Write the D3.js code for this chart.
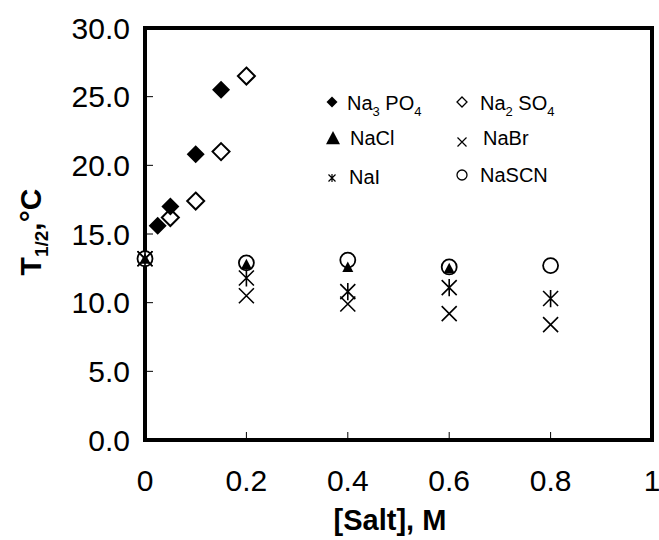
<!DOCTYPE html>
<html><head><meta charset="utf-8">
<script src="https://cdn.jsdelivr.net/npm/d3@7"></script>
<style>body{margin:0;background:#fff}svg{display:block}text{font-family:Arial,"Liberation Sans",sans-serif}</style>
</head><body><svg id="c" width="659" height="540"></svg>
<script>
const xTicks = [0, 0.2, 0.4, 0.6, 0.8, 1];
const xTickLabels = ["0", "0.2", "0.4", "0.6", "0.8", "1"];
const yTicks = [0, 5, 10, 15, 20, 25, 30];
const yTickLabels = ["0.0", "5.0", "10.0", "15.0", "20.0", "25.0", "30.0"];

const na3po4X = [0.025, 0.05, 0.1, 0.15];
const na3po4Y = [15.6, 17.0, 20.8, 25.5];
const na2so4X = [0.05, 0.1, 0.15, 0.2];
const na2so4Y = [16.2, 17.4, 21.0, 26.5];
const naclX = [0, 0.2, 0.4, 0.6];
const naclY = [13.2, 12.8, 12.6, 12.5];
const nabrX = [0, 0.2, 0.4, 0.6, 0.8];
const nabrY = [13.2, 10.5, 9.9, 9.2, 8.4];
const naiX = [0, 0.2, 0.4, 0.6, 0.8];
const naiY = [13.2, 11.8, 10.8, 11.1, 10.3];
const nascnX = [0, 0.2, 0.4, 0.6, 0.8];
const nascnY = [13.2, 12.9, 13.1, 12.6, 12.7];

const svg = d3.select("#c");
const x = d3.scaleLinear().domain([0, 1]).range([145, 652]);
const y = d3.scaleLinear().domain([0, 30]).range([440, 28]);

function drawSeries(xs, ys, draw) {
  xs.forEach((xv, i) => draw(svg.append("g").attr("transform", `translate(${x(xv)},${y(ys[i])})`)));
}
const diamondPath = s => `M0,${-s}L${s},0L0,${s}L${-s},0Z`;
const filledDiamond = (g, s = 9) => g.append("path").attr("d", diamondPath(s)).attr("fill", "#000");
const openDiamond = (g, s = 8.5) => g.append("path").attr("d", diamondPath(s)).attr("fill", "#fff").attr("stroke", "#000").attr("stroke-width", 2);
const triangle = (g, s = 5.5) => g.append("path").attr("d", `M0,${-s}L${s},${s*0.9}L${-s},${s*0.9}Z`).attr("fill", "#000");
const circle = (g, r = 7.5) => g.append("circle").attr("r", r).attr("fill", "#fff").attr("stroke", "#000").attr("stroke-width", 1.8);
const xMark = (g, s = 7.5) => g.append("path").attr("d", `M${-s},${-s}L${s},${s}M${-s},${s}L${s},${-s}`).attr("stroke", "#000").attr("stroke-width", 1.6).attr("fill", "none");
const star = (g, s = 7.5) => g.append("path").attr("d", `M${-s},${-s}L${s},${s}M${-s},${s}L${s},${-s}M0,${-s*1.15}L0,${s*1.15}`).attr("stroke", "#000").attr("stroke-width", 1.6).attr("fill", "none");

// frame
svg.append("rect").attr("x", x(0)).attr("y", y(30)).attr("width", x(1) - x(0)).attr("height", y(0) - y(30))
  .attr("fill", "none").attr("stroke", "#000").attr("stroke-width", 4);

// ticks inside
const tickG = svg.append("g");
yTicks.slice(1, -1).forEach(t => tickG.append("line").attr("x1", x(0)).attr("x2", x(0) + 8).attr("y1", y(t)).attr("y2", y(t)).attr("stroke", "#000").attr("stroke-width", 1));
xTicks.slice(1, -1).forEach(t => tickG.append("line").attr("x1", x(t)).attr("x2", x(t)).attr("y1", y(0)).attr("y2", y(0) - 8).attr("stroke", "#000").attr("stroke-width", 1));

// tick labels
yTicks.forEach((t, i) => svg.append("text").attr("x", 130).attr("y", y(t)).attr("dy", "0.36em").attr("text-anchor", "end").attr("font-size", 30).text(yTickLabels[i]));
xTicks.forEach((t, i) => svg.append("text").attr("x", x(t)).attr("y", 491).attr("text-anchor", "middle").attr("font-size", 30).text(xTickLabels[i]));

// axis titles
svg.append("text").attr("x", 390).attr("y", 530).attr("text-anchor", "middle").attr("font-size", 29).attr("font-weight", "bold").text("[Salt], M");
const yt = svg.append("text").attr("transform", "translate(41,232) rotate(-90)").attr("text-anchor", "middle").attr("font-size", 30).attr("font-weight", "bold");
yt.append("tspan").text("T");
yt.append("tspan").attr("font-size", 19).attr("dy", 7).text("1/2");
yt.append("tspan").attr("dy", -7).text(",°C");

// data
drawSeries(nascnX, nascnY, g => circle(g));
drawSeries(na2so4X, na2so4Y, g => openDiamond(g));
drawSeries(na3po4X, na3po4Y, g => filledDiamond(g));
drawSeries(naclX, naclY, g => triangle(g));
drawSeries(nabrX, nabrY, g => xMark(g));
drawSeries(naiX, naiY, g => star(g));

// legend
const leg = svg.append("g");
function legText(px, py, parts) {
  const t = leg.append("text").attr("x", px).attr("y", py).attr("font-size", 20);
  parts.forEach(p => {
    if (p.sub) t.append("tspan").attr("font-size", 13).attr("dy", 6).text(p.s);
    else t.append("tspan").attr("dy", p.back ? -6 : 0).text(p.s);
  });
}
filledDiamond(leg.append("g").attr("transform", "translate(332,102)"), 5.5);
legText(347, 110, [{s: "Na"}, {s: "3", sub: true}, {s: " PO", back: true}, {s: "4", sub: true}]);
openDiamond(leg.append("g").attr("transform", "translate(462,102)"), 5).attr("stroke-width", 1.3);
legText(480, 110, [{s: "Na"}, {s: "2", sub: true}, {s: " SO", back: true}, {s: "4", sub: true}]);
triangle(leg.append("g").attr("transform", "translate(333,138)"), 7);
legText(350, 145, [{s: "NaCl"}]);
xMark(leg.append("g").attr("transform", "translate(462,142)"), 4.5).attr("stroke-width", 1.2);
legText(483, 145, [{s: "NaBr"}]);
star(leg.append("g").attr("transform", "translate(332,178)"), 3.5).attr("stroke-width", 1.2);
legText(349, 184, [{s: "NaI"}]);
circle(leg.append("g").attr("transform", "translate(462,175)"), 5).attr("stroke-width", 1.3);
legText(480, 182, [{s: "NaSCN"}]);
</script></body></html>
